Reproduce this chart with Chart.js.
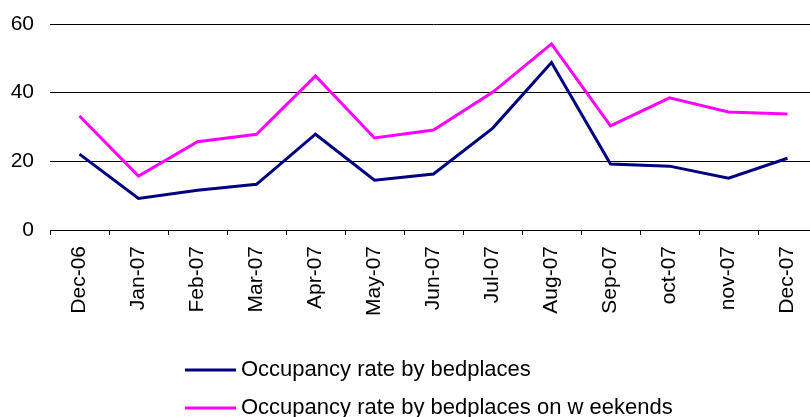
<!DOCTYPE html>
<html>
<head>
<meta charset="utf-8">
<script src="https://cdn.jsdelivr.net/npm/chart.js@4"></script>
<style>
  html, body { margin: 0; padding: 0; background: #fff; overflow: hidden; }
  /* the plot runs a few pixels past the right edge, as in the source picture */
  #wrap { width: 817px; height: 417px; }
</style>
</head>
<body>
<div id="wrap"><canvas id="occupancy"></canvas></div>
<script>
// data
var months = ['Dec-06', 'Jan-07', 'Feb-07', 'Mar-07', 'Apr-07', 'May-07', 'Jun-07',
              'Jul-07', 'Aug-07', 'Sep-07', 'oct-07', 'nov-07', 'Dec-07'];
var bedplaces = [22.1, 9.2, 11.6, 13.3, 27.9, 14.5, 16.3, 29.6, 48.8, 19.2, 18.6, 15.1, 20.9];
var weekends = [33.2, 15.7, 25.7, 27.9, 44.9, 26.8, 29.1, 40.1, 54.2, 30.3, 38.5, 34.4, 33.8];
var yTicks = [0, 20, 40, 60];

var FONT = "'Liberation Sans', Arial, sans-serif";

// legend stacked under the chart, both entries left aligned
var stackedLegend = {
  id: 'stackedLegend',
  afterDraw: function (chart) {
    var ctx = chart.ctx;
    ctx.save();
    ctx.font = '22px ' + FONT;
    ctx.textBaseline = 'middle';
    ctx.textAlign = 'left';
    chart.data.datasets.forEach(function (ds, i) {
      var y = 370 + i * 38;
      ctx.strokeStyle = ds.borderColor;
      ctx.lineWidth = 3;
      ctx.beginPath();
      ctx.moveTo(185, y);
      ctx.lineTo(236, y);
      ctx.stroke();
      ctx.fillStyle = '#000';
      ctx.fillText(ds.label, 241, y);
    });
    ctx.restore();
  }
};

function occupancyChart () {
  new Chart(
    document.getElementById('occupancy'),
    {
      type: 'line',
      plugins: [stackedLegend],
      options: {
        responsive: true,
        maintainAspectRatio: false,
        animation: false,
        layout: {
          padding: { top: 24, right: 0, left: 0, bottom: 0 }
        },
        plugins: {
          legend: { display: false },
          tooltip: { enabled: false }
        },
        elements: {
          point: { radius: 0 },
          line: { tension: 0, borderWidth: 3 }
        },
        scales: {
          x: {
            offset: true,
            grid: {
              offset: true,
              drawOnChartArea: false,
              drawTicks: true,
              tickLength: 5,
              color: '#000'
            },
            border: { display: true, color: '#000', width: 1 },
            ticks: {
              color: '#000',
              font: { family: FONT, size: 21 },
              minRotation: 90,
              maxRotation: 90,
              autoSkip: false,
              padding: 11
            },
            afterFit: function (scale) {
              scale.height = 187;
              scale.paddingLeft = 0;
              scale.paddingRight = 0;
            }
          },
          y: {
            min: yTicks[0],
            max: yTicks[yTicks.length - 1],
            afterBuildTicks: function (scale) {
              scale.ticks = yTicks.map(function (v) { return { value: v }; });
            },
            grid: { color: '#000', drawTicks: false, lineWidth: 1 },
            border: { display: false },
            ticks: {
              color: '#000',
              font: { family: FONT, size: 21 },
              padding: 16
            },
            afterFit: function (scale) {
              scale.width = 50;
              scale.paddingTop = 0;
              scale.paddingBottom = 0;
            }
          }
        }
      },
      data: {
        labels: months,
        datasets: [
          {
            label: 'Occupancy rate by bedplaces',
            data: bedplaces,
            borderColor: '#000080',
            backgroundColor: '#000080',
            fill: false
          },
          {
            label: 'Occupancy rate by bedplaces on w eekends',
            data: weekends,
            borderColor: '#FF00FF',
            backgroundColor: '#FF00FF',
            fill: false
          }
        ]
      }
    }
  );
}

occupancyChart();
</script>
</body>
</html>
